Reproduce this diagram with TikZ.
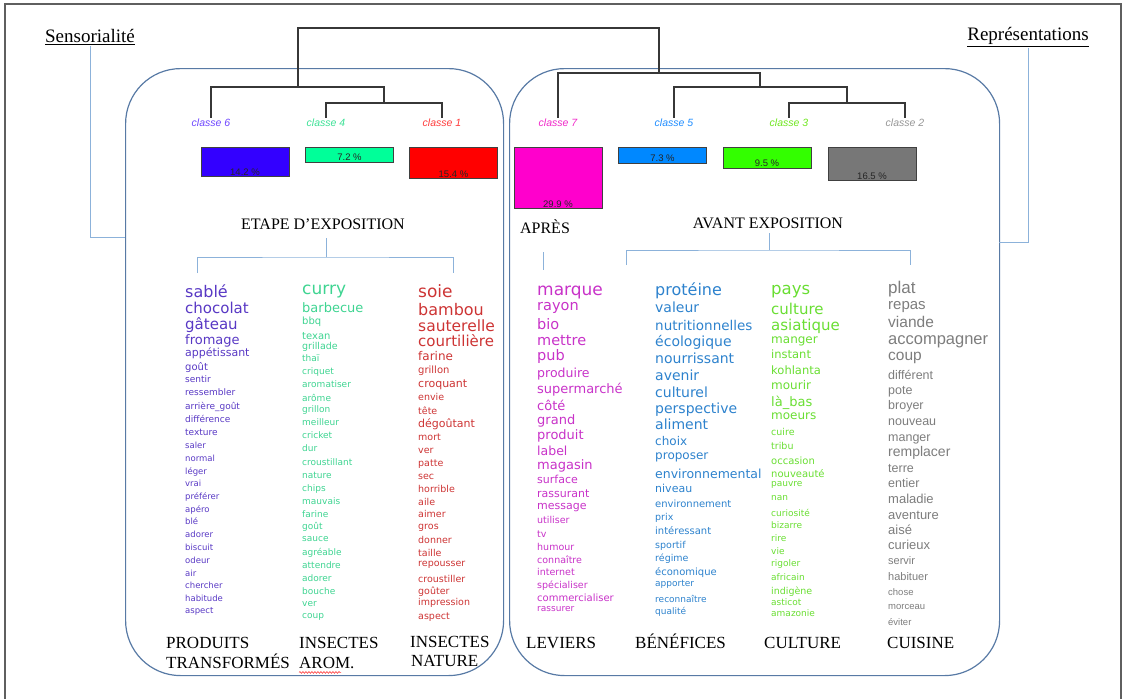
\documentclass[tikz,border=0pt]{standalone}
\usepackage{fontspec}
\setmainfont{Liberation Serif}
\newfontfamily\wcf{DejaVu Sans}
\newfontfamily\arf{Liberation Sans}
\usetikzlibrary{decorations.pathmorphing}
\definecolor{framecol}{RGB}{95,95,95}
\definecolor{dendcol}{RGB}{55,55,55}
\definecolor{boxcol}{RGB}{88,122,165}
\definecolor{brkcol}{RGB}{140,178,218}
\definecolor{k6}{RGB}{110,70,255}
\definecolor{k4}{RGB}{60,225,150}
\definecolor{k1}{RGB}{255,60,60}
\definecolor{k7}{RGB}{240,40,200}
\definecolor{k5}{RGB}{30,140,255}
\definecolor{k3}{RGB}{110,230,30}
\definecolor{k2}{RGB}{150,150,150}
\definecolor{f6}{RGB}{51,0,255}
\definecolor{f4}{RGB}{0,255,153}
\definecolor{f1}{RGB}{255,0,0}
\definecolor{f7}{RGB}{255,0,204}
\definecolor{f5}{RGB}{0,136,255}
\definecolor{f3}{RGB}{51,255,0}
\definecolor{f2}{RGB}{119,119,119}
\definecolor{w1}{RGB}{88,56,196}
\definecolor{w2}{RGB}{62,212,145}
\definecolor{w3}{RGB}{205,52,52}
\definecolor{w4}{RGB}{200,50,200}
\definecolor{w5}{RGB}{45,130,205}
\definecolor{w6}{RGB}{105,222,50}
\definecolor{w7}{RGB}{125,125,125}
\begin{document}
\begin{tikzpicture}[x=1pt,y=-1pt,
  dend/.style={draw=dendcol, line width=1.4},
  cls/.style={font=\arf\itshape\fontsize{10.5}{10.5}\selectfont, inner sep=1},
  bar/.style={draw=black!75, line width=0.8, minimum width=88, inner sep=0, anchor=north},
  pct/.style={font=\arf\fontsize{9.5}{9.5}\selectfont, text=black!85, inner sep=0, anchor=base},
  grp/.style={draw=boxcol, line width=1.2, rounded corners=55, inner sep=0},
  brk/.style={draw=brkcol, line width=1},
  head/.style={font=\fontsize{16}{16}\selectfont, inner sep=0},
  side/.style={font=\fontsize{19}{19}\selectfont, inner sep=1},
  lab/.style={font=\fontsize{17}{17}\selectfont, inner sep=0, anchor=base west},
  word/.style={inner sep=0, anchor=base west}
]
\useasboundingbox (0,0) rectangle (1125,699);
% outer frame
\draw[framecol, line width=1.5] (5,699) -- (5,4) -- (1121,4) -- (1121,699);

% side titles
\node[side] (sens) at (90,37) {\underline{Sensorialité}};
\node[side] (repr) at (1028,37) {\underline{Représentations}};

% group boxes
\node[grp, minimum width=378, minimum height=607, anchor=north west] (L) at (125,68) {};
\node[grp, minimum width=490, minimum height=607, anchor=north west] (R) at (509,68) {};
\coordinate (lb) at (125,237);
\coordinate (rb) at (999,242);
\draw[brk] (sens.south) |- (lb);
\draw[brk] (repr.south) |- (rb);

% class labels
\node[cls, text=k6] (c6) at (211,123) {classe 6};
\node[cls, text=k4] (c4) at (326,123) {classe 4};
\node[cls, text=k1] (c1) at (442,123) {classe 1};
\node[cls, text=k7] (c7) at (558,123) {classe 7};
\node[cls, text=k5] (c5) at (674,123) {classe 5};
\node[cls, text=k3] (c3) at (789,123) {classe 3};
\node[cls, text=k2] (c2) at (905,123) {classe 2};

% dendrogram
\coordinate (j41) at (384,103);
\coordinate (j6) at (298,87);
\coordinate (j32) at (847,103);
\coordinate (j5) at (760,87);
\coordinate (j7) at (659,73);
\coordinate (root) at (478,28);
\draw[dend] (c4.north) |- (j41) -| (c1.north);
\draw[dend] (c6.north) |- (j6) -| (j41);
\draw[dend] (c3.north) |- (j32) -| (c2.north);
\draw[dend] (c5.north) |- (j5) -| (j32);
\draw[dend] (c7.north) |- (j7) -| (j5);
\draw[dend] (j6) |- (root) -| (j7);

% bars
\node[bar, fill=f6, minimum height=29] (b6) at (245,147) {};
\node[bar, fill=f4, minimum height=15] (b4) at (349.5,147) {};
\node[bar, fill=f1, minimum height=31] (b1) at (453.5,147) {};
\node[bar, fill=f7, minimum height=61] (b7) at (558,147) {};
\node[bar, fill=f5, minimum height=16] (b5) at (662.5,147) {};
\node[bar, fill=f3, minimum height=21] (b3) at (767,147) {};
\node[bar, fill=f2, minimum height=33] (b2) at (872,147) {};
\node[pct] (p6) at ([yshift=1]b6.south) {14.2 \%};
\node[pct] (p4) at ([yshift=2]b4.south) {7.2 \%};
\node[pct] (p1) at ([yshift=1]b1.south) {15.4 \%};
\node[pct] (p7) at ([yshift=1]b7.south) {29.9 \%};
\node[pct] (p5) at ([yshift=2.5]b5.south) {7.3 \%};
\node[pct] (p3) at ([yshift=2]b3.south) {9.5 \%};
\node[pct] (p2) at ([yshift=1]b2.south) {16.5 \%};

% headings
\node[head] (etape) at (323,224) {ETAPE D’EXPOSITION};
\node[head] (apres) at (545,227) {APRÈS};
\node[head] (avant) at (768,223) {AVANT EXPOSITION};
\coordinate (eb) at (326,257);
\draw[brk] (326,238) -- (eb);
\draw[brk] (197,273) |- (eb) -| (453,273);
\draw[brk] (543,252) -- (543,270);
\coordinate (ab) at (769,250);
\draw[brk] (769,233) -- (ab);
\draw[brk] (626,265) |- (ab) -| (910,265);

% word columns
\foreach \w/\y/\s [count=\i] in {sablé/292/16,chocolat/309/15,gâteau/325/15,fromage/340/13,appétissant/353/11,goût/367/10,sentir/380/9,ressembler/393/9,arrière\_goût/407/9,différence/420/9,texture/433/9,saler/446/8.5,normal/459/8.5,léger/472/8.5,vrai/484/8.5,préférer/497/8.5,apéro/510/8.5,blé/522/8.5,adorer/535/8.5,biscuit/548/8.5,odeur/561/8.5,air/574/8.5,chercher/586/8.5,habitude/599/8.5,aspect/611/8.5}
  \node[word, text=w1, font=\wcf\fontsize{\s}{\s}\selectfont] (a\i) at (185,{\y+0.33*\s}) {\w};

\foreach \w/\y/\s [count=\i] in {curry/289/17,barbecue/308/13,bbq/321/10,texan/336/10,grillade/346/9.5,thaï/359/9,criquet/372/9,aromatiser/385/9,arôme/399/9,grillon/410/9,meilleur/423/9,cricket/436/9,dur/449/9,croustillant/463/9,nature/476/9,chips/489/9,mauvais/502/9,farine/515/9,goût/527/9,sauce/539/9,agréable/553/9,attendre/566/9,adorer/579/9,bouche/592/9,ver/604/9,coup/616/9}
  \node[word, text=w2, font=\wcf\fontsize{\s}{\s}\selectfont] (b\i) at (302,{\y+0.33*\s}) {\w};

\foreach \w/\y/\s [count=\i] in {soie/292/17,bambou/310/16,sauterelle/326/15.5,courtilière/342/15,farine/357/12,grillon/370/10,croquant/384/11,envie/397/9.5,tête/411/9.5,dégoûtant/424/11,mort/437/9.5,ver/450/9.5,patte/463/9.5,sec/476/9.5,horrible/489/9.5,aile/502/9.5,aimer/514/9.5,gros/526/9.5,donner/540/9.5,taille/553/9.5,repousser/563/9.5,croustiller/579/9.5,goûter/591/9.5,impression/602/9.5,aspect/616/9.5}
  \node[word, text=w3, font=\wcf\fontsize{\s}{\s}\selectfont] (c\i) at (418,{\y+0.33*\s}) {\w};

\foreach \w/\y/\s [count=\i] in {marque/290/17,rayon/306/14.5,bio/325/14.5,mettre/341/14.5,pub/356/14.5,produire/373/12.5,supermarché/389/13,côté/406/13,grand/420/13,produit/435/13,label/451/12.5,magasin/465/13,surface/480/11,rassurant/494/11,message/506/11,utiliser/520/9.5,tv/534/9.5,humour/547/9.5,connaître/560/9.5,internet/572/9.5,spécialiser/585/9.5,commercialiser/598/10,rassurer/609/9}
  \node[word, text=w4, font=\wcf\fontsize{\s}{\s}\selectfont] (d\i) at (537,{\y+0.33*\s}) {\w};

\foreach \w/\y/\s [count=\i] in {protéine/290/16,valeur/308/14,nutritionnelles/326/13.5,écologique/342/14,nourrissant/359/14,avenir/376/14,culturel/393/14,perspective/409/14,aliment/425/14,choix/442/12,proposer/456/12,environnemental/474/12.5,niveau/489/11,environnement/504/10,prix/517/9.5,intéressant/531/10,sportif/545/9.5,régime/558/9.5,économique/572/10,apporter/584/9,reconnaître/600/9,qualité/612/9}
  \node[word, text=w5, font=\wcf\fontsize{\s}{\s}\selectfont] (e\i) at (655,{\y+0.33*\s}) {\w};

\foreach \w/\y/\s [count=\i] in {pays/289/16.5,culture/310/15,asiatique/326/15,manger/340/12,instant/355/11.5,kohlanta/371/11.5,mourir/386/12,là\_bas/402/13,moeurs/416/12,cuire/432/9.5,tribu/446/9.5,occasion/461/10,nouveauté/474/10,pauvre/484/9,nan/498/9,curiosité/514/9,bizarre/526/9,rire/539/9,vie/552/9,rigoler/564/9,africain/578/9,indigène/591/9.5,asticot/603/9,amazonie/614/9}
  \node[word, text=w6, font=\wcf\fontsize{\s}{\s}\selectfont] (f\i) at (771,{\y+0.33*\s}) {\w};

\foreach \w/\y/\s [count=\i] in {plat/288/17,repas/305/15,viande/322/15.5,accompagner/339/16.5,coup/355/15.5,différent/375/12.5,pote/390/12.5,broyer/405/12.5,nouveau/421/12.5,manger/437/12.5,remplacer/452/14,terre/468/12.5,entier/483/12.5,maladie/499/13,aventure/515/13,aisé/530/13,curieux/545/13,servir/561/11,habituer/577/11,chose/592/9.5,morceau/606/9.5,éviter/622/9.5}
  \node[word, text=w7, font=\arf\fontsize{\s}{\s}\selectfont] (g\i) at (888,{\y+0.33*\s}) {\w};

% bottom labels
\node[lab] (l1a) at (166,648) {PRODUITS};
\node[lab] (l1b) at (166,668) {TRANSFORMÉS};
\node[lab] (l2a) at (299,648) {INSECTES};
\node[lab] (l2b) at (299,668) {AROM.};
\node[lab] (l3a) at (410,647) {INSECTES};
\node[lab] (l3b) at (411,666) {NATURE};
\node[lab] (l4) at (526,648) {LEVIERS};
\node[lab] (l5) at (635,648) {BÉNÉFICES};
\node[lab] (l6) at (764,648) {CULTURE};
\node[lab] (l7) at (887,648) {CUISINE};
\draw[red!80, line width=0.6, decorate, decoration={snake, amplitude=0.9, segment length=3}] (l2b.south west) ++(0,4) -- ++(42,0);
\end{tikzpicture}
\end{document}
